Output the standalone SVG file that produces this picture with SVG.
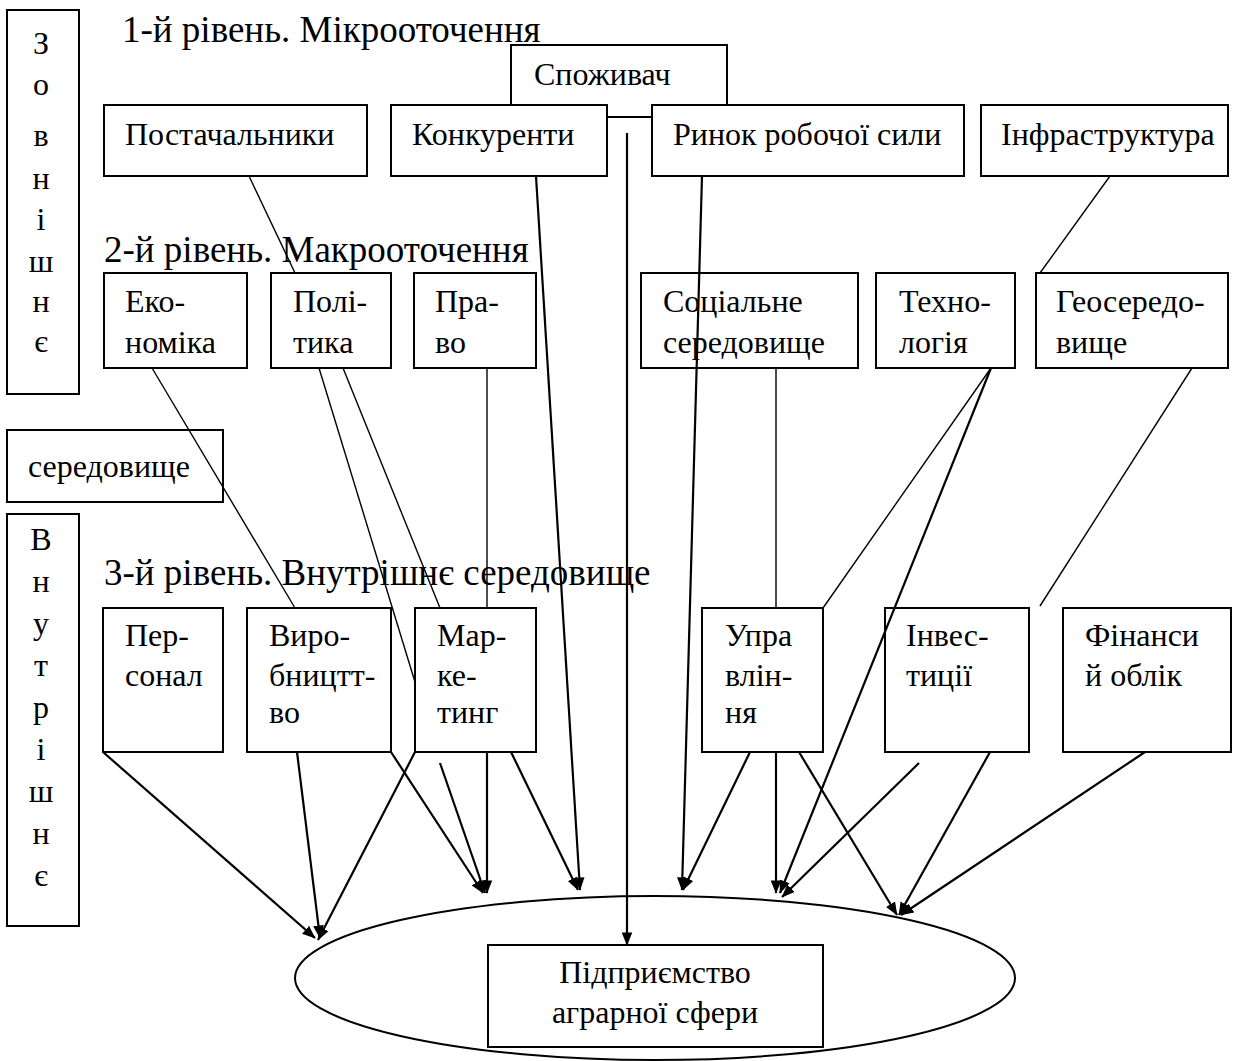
<svg xmlns="http://www.w3.org/2000/svg" width="1242" height="1061" viewBox="0 0 1242 1061">
<style>
.b{fill:#fff;stroke:#000;stroke-width:2}
.t{font-family:"Liberation Serif","Times New Roman",serif;font-size:32px;fill:#000}
.h{font-family:"Liberation Serif","Times New Roman",serif;font-size:37px;fill:#000}
.v{font-family:"Liberation Serif","Times New Roman",serif;font-size:32px;fill:#000;text-anchor:middle}
.c{text-anchor:middle}
.l{fill:none;stroke:#000;stroke-width:1.4}
.a{fill:none;stroke:#000;stroke-width:2.2;marker-end:url(#ah)}
</style>
<defs>
<marker id="ah" viewBox="0 0 10 10" refX="9.5" refY="5" markerWidth="6" markerHeight="6" markerUnits="strokeWidth" orient="auto">
<path d="M0,1 L10,5 L0,9 z" fill="#000"/>
</marker>
</defs>
<rect width="1242" height="1061" fill="#fff"/>

<g id="ellipse-node"><ellipse cx="655" cy="978" rx="360" ry="82" class="b"/></g>

<g id="outer-label">
<rect x="7" y="10" width="72" height="384" class="b"/>
<text class="v" x="41" y="54">З</text><text class="v" x="41" y="95">о</text><text class="v" x="41" y="146">в</text><text class="v" x="41" y="189">н</text><text class="v" x="41" y="230">і</text><text class="v" x="41" y="272">ш</text><text class="v" x="41" y="312">н</text><text class="v" x="41" y="352">є</text>
</g>
<g id="inner-label">
<rect x="7" y="514" width="72" height="412" class="b"/>
<text class="v" x="41" y="550">В</text><text class="v" x="41" y="592">н</text><text class="v" x="41" y="634">у</text><text class="v" x="41" y="676">т</text><text class="v" x="41" y="718">р</text><text class="v" x="41" y="760">і</text><text class="v" x="41" y="802">ш</text><text class="v" x="41" y="844">н</text><text class="v" x="41" y="886">є</text>
</g>

<g id="level-labels">
<text class="h" x="122" y="42">1-й рівень. Мікрооточення</text>
<text class="h" x="104" y="262">2-й рівень. Макрооточення</text>
<text class="h" x="104" y="585">3-й рівень. Внутрішнє середовище</text>
</g>

<g id="spozhyvach"><rect x="511" y="45" width="216" height="72" class="b"/><text class="t" x="534" y="85">Споживач</text></g>

<g id="connectors-under">
<line class="l" x1="249" y1="176" x2="295" y2="273"/>
<line class="l" x1="1110" y1="176" x2="1040" y2="273"/>
</g>

<g id="postachalnyky"><rect x="104" y="105" width="263" height="71" class="b"/><text class="t" x="125" y="145">Постачальники</text></g>
<g id="konkurenty"><rect x="391" y="105" width="216" height="71" class="b"/><text class="t" x="412" y="145">Конкуренти</text></g>
<g id="rynok"><rect x="652" y="105" width="312" height="71" class="b"/><text class="t" x="673" y="145">Ринок робочої сили</text></g>
<g id="infrastruktura"><rect x="981" y="105" width="247" height="71" class="b"/><text class="t" x="1001" y="145">Інфраструктура</text></g>

<g id="ekonomika"><rect x="104" y="273" width="143" height="95" class="b"/><text class="t" x="125" y="312">Еко-</text><text class="t" x="125" y="353">номіка</text></g>
<g id="polityka"><rect x="271" y="273" width="120" height="95" class="b"/><text class="t" x="293" y="312">Полі-</text><text class="t" x="293" y="353">тика</text></g>
<g id="pravo"><rect x="414" y="273" width="122" height="95" class="b"/><text class="t" x="435" y="312">Пра-</text><text class="t" x="435" y="353">во</text></g>
<g id="sotsialne"><rect x="641" y="273" width="217" height="95" class="b"/><text class="t" x="663" y="312">Соціальне</text><text class="t" x="663" y="353">середовище</text></g>
<g id="tekhnolohiia"><rect x="876" y="273" width="139" height="95" class="b"/><text class="t" x="899" y="312">Техно-</text><text class="t" x="899" y="353">логія</text></g>
<g id="heoseredovyshche"><rect x="1036" y="273" width="192" height="95" class="b"/><text class="t" x="1056" y="312">Геосередо-</text><text class="t" x="1056" y="353">вище</text></g>

<g id="seredovyshche"><rect x="7" y="430" width="216" height="72" class="b"/><text class="t" x="28" y="477">середовище</text></g>

<g id="personal"><rect x="103" y="608" width="120" height="144" class="b"/><text class="t" x="125" y="646">Пер-</text><text class="t" x="125" y="686">сонал</text></g>
<g id="vyrobnytstvo"><rect x="247" y="608" width="144" height="144" class="b"/><text class="t" x="269" y="646">Виро-</text><text class="t" x="269" y="686">бництт-</text><text class="t" x="269" y="723">во</text></g>
<g id="marketynh"><rect x="415" y="608" width="121" height="144" class="b"/><text class="t" x="437" y="646">Мар-</text><text class="t" x="437" y="686">ке-</text><text class="t" x="437" y="723">тинг</text></g>
<g id="upravlinnia"><rect x="702" y="608" width="121" height="144" class="b"/><text class="t" x="725" y="646">Упра</text><text class="t" x="725" y="686">влін-</text><text class="t" x="725" y="723">ня</text></g>
<g id="investytsii"><rect x="885" y="608" width="144" height="144" class="b"/><text class="t" x="906" y="646">Інвес-</text><text class="t" x="906" y="686">тиції</text></g>
<g id="finansy"><rect x="1063" y="608" width="168" height="144" class="b"/><text class="t" x="1085" y="646">Фінанси</text><text class="t" x="1085" y="686">й облік</text></g>

<g id="pidpryiemstvo"><rect x="488" y="945" width="335" height="102" class="b"/><text class="t c" x="655" y="983">Підприємство</text><text class="t c" x="655" y="1023">аграрної сфери</text></g>

<g id="connectors">
<line class="l" x1="607" y1="117" x2="652" y2="117"/>
<line class="l" x1="152" y1="368" x2="295" y2="608"/>
<line class="l" x1="319" y1="368" x2="415" y2="682"/>
<line class="l" x1="343" y1="368" x2="440" y2="608"/>
<line class="l" x1="487" y1="368" x2="487" y2="608"/>
<line class="l" x1="776" y1="368" x2="776" y2="608"/>
<line class="l" x1="991" y1="368" x2="823" y2="608"/>
<line class="l" x1="1192" y1="368" x2="1040" y2="606"/>
<line class="a" x1="536" y1="176" x2="580" y2="890"/>
<line class="a" x1="627" y1="133" x2="627" y2="945"/>
<line class="a" x1="702" y1="176" x2="682" y2="890"/>
<line class="a" x1="991" y1="368" x2="780" y2="893"/>
<line class="a" x1="103" y1="752" x2="315" y2="938"/>
<line class="a" x1="297" y1="752" x2="320" y2="938"/>
<line class="a" x1="415" y1="752" x2="318" y2="940"/>
<line class="a" x1="391" y1="752" x2="483" y2="893"/>
<line class="a" x1="440" y1="763" x2="485" y2="893"/>
<line class="a" x1="487" y1="752" x2="487" y2="893"/>
<line class="a" x1="511" y1="752" x2="578" y2="890"/>
<line class="a" x1="750" y1="752" x2="683" y2="890"/>
<line class="a" x1="776" y1="752" x2="776" y2="893"/>
<line class="a" x1="799" y1="752" x2="897" y2="915"/>
<line class="a" x1="919" y1="763" x2="782" y2="897"/>
<line class="a" x1="990" y1="752" x2="899" y2="915"/>
<line class="a" x1="1145" y1="752" x2="901" y2="915"/>
</g>
</svg>
